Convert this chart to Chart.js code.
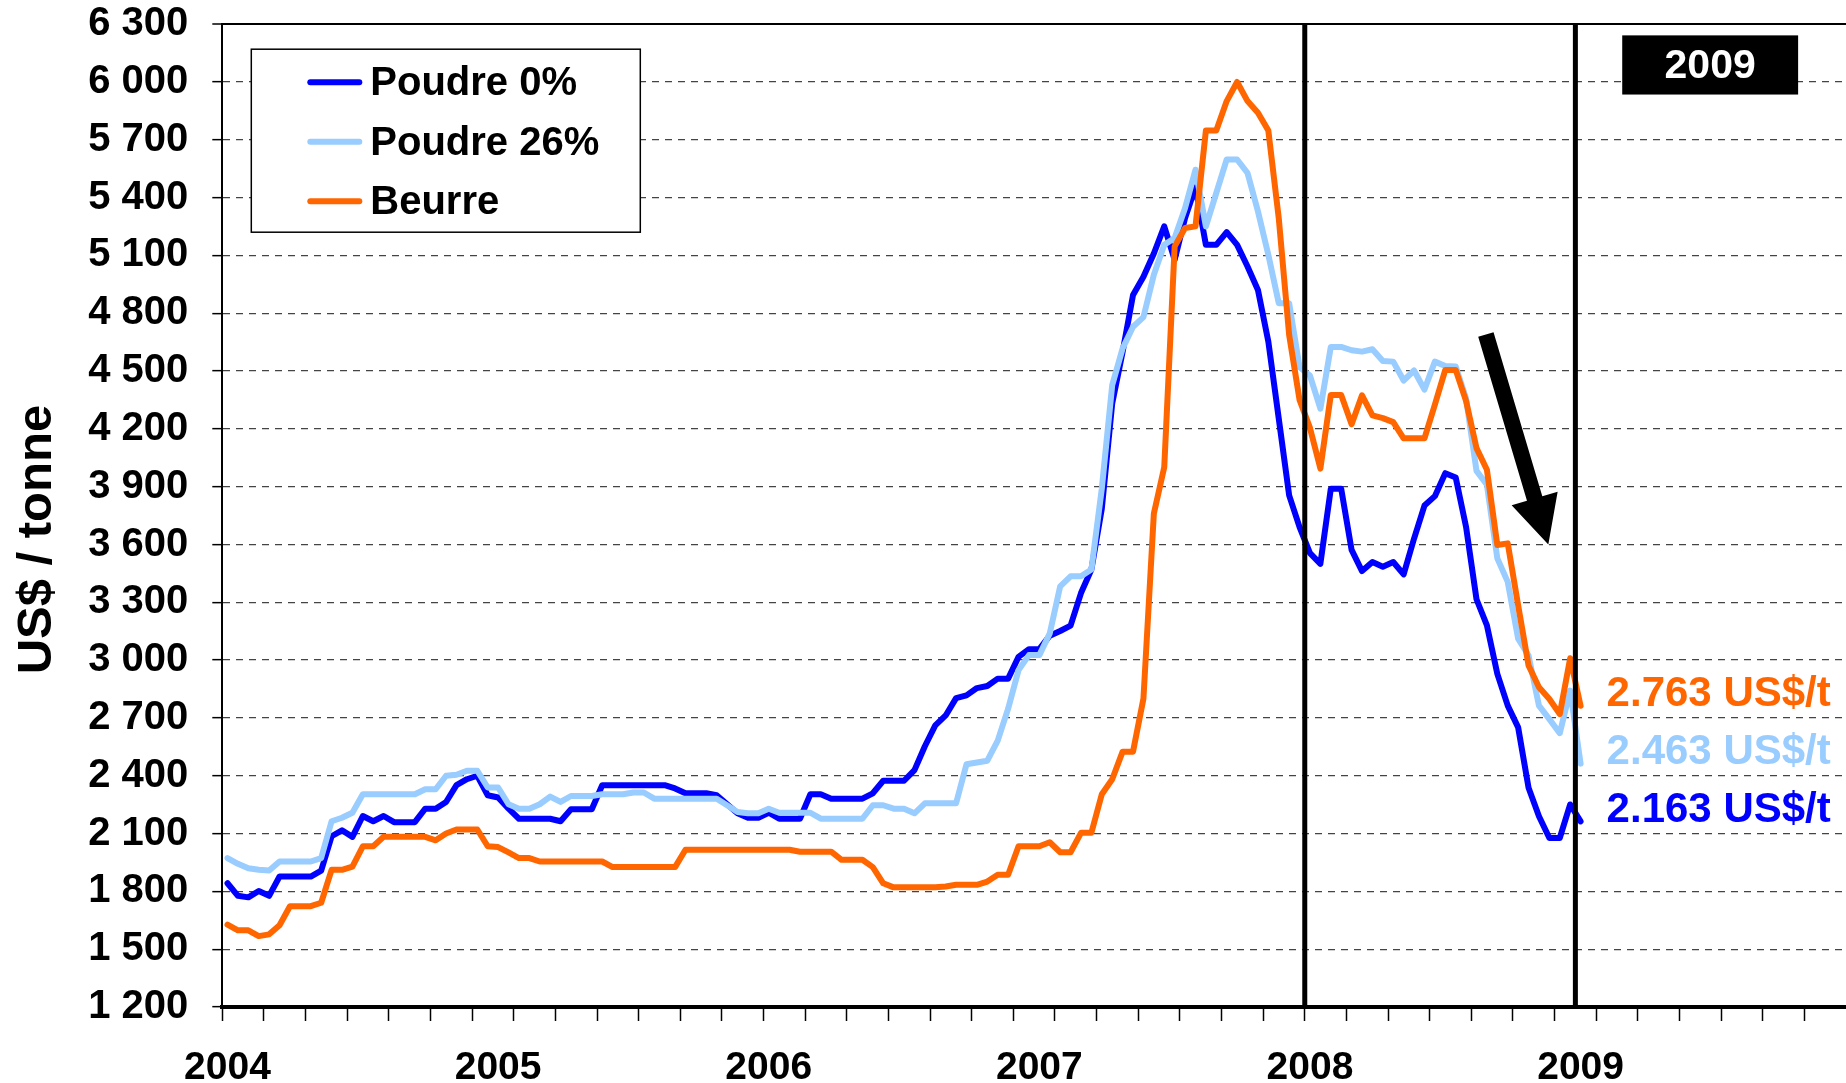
<!DOCTYPE html>
<html>
<head>
<meta charset="utf-8">
<script src="https://cdn.jsdelivr.net/npm/chart.js@4/dist/chart.umd.min.js"></script>
<style>
  html, body { margin: 0; padding: 0; background: #fff; }
  #wrap { width: 1846px; height: 1083px; position: relative; }
</style>
</head>
<body>
<div id="wrap"><canvas id="chart"></canvas></div>
<script>
// ----- DATA -----
// biweekly quotations, 26 per year, axis runs 2004 -> 2010
const years = ['2004', '2005', '2006', '2007', '2008', '2009'];
const periodsPerYear = 26;

const poudre0 = [
  1842, 1777, 1769, 1802, 1777, 1877, 1877, 1877, 1877, 1908,
  2086, 2117, 2083, 2191, 2164, 2191, 2159, 2159, 2159, 2229,
  2229, 2264, 2351, 2382, 2400, 2299, 2287, 2229, 2177, 2177,
  2177, 2177, 2164, 2226, 2226, 2226, 2351, 2351, 2351, 2351,
  2351, 2351, 2351, 2334, 2309, 2309, 2309, 2299, 2252, 2205,
  2182, 2182, 2208, 2177, 2177, 2177, 2304, 2304, 2281, 2281,
  2281, 2281, 2309, 2374, 2374, 2374, 2429, 2553, 2661, 2713,
  2803, 2817, 2855, 2866, 2904, 2904, 3017, 3057, 3057, 3127,
  3151, 3179, 3348, 3470, 3786, 4332, 4600, 4895, 4990, 5110,
  5251, 5077, 5294, 5454, 5155, 5155, 5221, 5155, 5043, 4921,
  4653, 4254, 3855, 3690, 3555, 3500, 3889, 3889, 3572, 3462,
  3509, 3485, 3509, 3445, 3631, 3802, 3851, 3970, 3948, 3690,
  3316, 3180, 2929, 2764, 2651, 2338, 2190, 2077, 2077, 2251,
  2163
];

const poudre26 = [
  1973, 1943, 1920, 1912, 1908, 1955, 1955, 1955, 1955, 1973,
  2164, 2182, 2208, 2304, 2304, 2304, 2304, 2304, 2304, 2330,
  2330, 2400, 2405, 2426, 2426, 2339, 2339, 2252, 2229, 2229,
  2252, 2292, 2264, 2295, 2295, 2295, 2304, 2304, 2304, 2313,
  2313, 2281, 2281, 2281, 2281, 2281, 2281, 2281, 2247, 2212,
  2205, 2205, 2229, 2208, 2208, 2208, 2208, 2177, 2177, 2177,
  2177, 2177, 2247, 2247, 2229, 2229, 2205, 2257, 2257, 2257,
  2257, 2460, 2469, 2478, 2582, 2748, 2948, 3026, 3026, 3139,
  3383, 3435, 3435, 3470, 3890, 4427, 4618, 4730, 4780, 5000,
  5155, 5190, 5346, 5545, 5251, 5424, 5598, 5598, 5528, 5329,
  5103, 4852, 4852, 4520, 4476, 4305, 4625, 4625, 4608, 4601,
  4613, 4552, 4549, 4451, 4503, 4404, 4549, 4526, 4524, 4357,
  3982, 3910, 3528, 3406, 3111, 3024, 2764, 2694, 2621, 2842,
  2463
];

const beurre = [
  1627, 1598, 1598, 1568, 1577, 1624, 1723, 1723, 1723, 1741,
  1912, 1912, 1929, 2034, 2034, 2083, 2083, 2083, 2083, 2083,
  2065, 2100, 2121, 2121, 2121, 2034, 2030, 2002, 1973, 1973,
  1955, 1955, 1955, 1955, 1955, 1955, 1955, 1926, 1926, 1926,
  1926, 1926, 1926, 1926, 2016, 2016, 2016, 2016, 2016, 2016,
  2016, 2016, 2016, 2016, 2016, 2006, 2006, 2006, 2006, 1964,
  1964, 1964, 1926, 1842, 1821, 1822, 1822, 1822, 1822, 1825,
  1834, 1834, 1834, 1851, 1886, 1886, 2034, 2034, 2034, 2055,
  2003, 2003, 2104, 2104, 2304, 2382, 2525, 2525, 2800, 3760,
  4002, 5147, 5242, 5251, 5748, 5748, 5901, 6000, 5901, 5840,
  5748, 5294, 4687, 4350, 4205, 3994, 4376, 4376, 4224, 4374,
  4270, 4256, 4235, 4151, 4151, 4151, 4326, 4506, 4506, 4344,
  4100, 3988, 3597, 3606, 3285, 2972, 2859, 2798, 2720, 3010,
  2763
];

const seriesNames = ['Poudre 0%', 'Poudre 26%', 'Beurre'];
const seriesColors = ['#0000FF', '#99CCFF', '#FF6600'];
const endLabels = ['2.163 US$/t', '2.463 US$/t', '2.763 US$/t'];
const endLabelValues = [2220, 2520, 2820];

const yMin = 1200, yMax = 6300, yStep = 300;
const yTitle = 'US$ / tonne';
const markerYears = ['2008', '2009'];
const boxLabel = '2009';
// arrow in data units: [period index, US$/t]
const arrowFrom = [120.9, 4690];
const arrowTo = [126.9, 3600];

const FONT = '"Liberation Sans", Arial, sans-serif';

// ----- CATEGORIES -----
const categories = [];
for (let i = 0; i < years.length * periodsPerYear; i++) {
  categories.push(i % periodsPerYear === 0 ? years[i / periodsPerYear] : '');
}

function fmtThousands(v) {
  return String(v).replace(/\B(?=(\d{3})+(?!\d))/g, ' ');
}

// ----- DRAWING EXTRAS -----
const extras = {
  id: 'extras',
  afterDatasetsDraw(chart) {
    const { ctx, chartArea: a, scales: { x, y } } = chart;
    const step = x.getPixelForValue(1) - x.getPixelForValue(0);
    const boundary = k => x.getPixelForValue(k) - step / 2;
    const xAt = v => x.getPixelForValue(0) + v * step;

    ctx.save();
    // year separators
    ctx.strokeStyle = '#000';
    ctx.lineWidth = 5;
    markerYears.forEach(yr => {
      const px = boundary(categories.indexOf(yr));
      ctx.beginPath();
      ctx.moveTo(px, a.top);
      ctx.lineTo(px, a.bottom);
      ctx.stroke();
    });

    // arrow
    const x1 = xAt(arrowFrom[0]), y1 = y.getPixelForValue(arrowFrom[1]);
    const x2 = xAt(arrowTo[0]), y2 = y.getPixelForValue(arrowTo[1]);
    const ang = Math.atan2(y2 - y1, x2 - x1);
    const headLen = 48, headHalf = 24, shaftHalf = 8;
    const bx = x2 - headLen * Math.cos(ang), by = y2 - headLen * Math.sin(ang);
    const nx = -Math.sin(ang), ny = Math.cos(ang);
    ctx.fillStyle = '#000';
    ctx.beginPath();
    ctx.moveTo(x1 + nx * shaftHalf, y1 + ny * shaftHalf);
    ctx.lineTo(bx + nx * shaftHalf, by + ny * shaftHalf);
    ctx.lineTo(bx + nx * headHalf, by + ny * headHalf);
    ctx.lineTo(x2, y2);
    ctx.lineTo(bx - nx * headHalf, by - ny * headHalf);
    ctx.lineTo(bx - nx * shaftHalf, by - ny * shaftHalf);
    ctx.lineTo(x1 - nx * shaftHalf, y1 - ny * shaftHalf);
    ctx.closePath();
    ctx.fill();

    // end-of-series value labels
    ctx.font = 'bold 42px ' + FONT;
    ctx.textAlign = 'left';
    ctx.textBaseline = 'middle';
    const lx = boundary(years.length * periodsPerYear - 23);
    endLabels.forEach((t, i) => {
      ctx.fillStyle = seriesColors[i];
      ctx.fillText(t, lx, y.getPixelForValue(endLabelValues[i]));
    });

    // black year box
    const bLeft = boundary(134.5), bRight = boundary(151.4);
    const bTop = y.getPixelForValue(6242), bBot = y.getPixelForValue(5935);
    ctx.fillStyle = '#000';
    ctx.fillRect(bLeft, bTop, bRight - bLeft, bBot - bTop);
    ctx.fillStyle = '#fff';
    ctx.font = 'bold 41px ' + FONT;
    ctx.textAlign = 'center';
    ctx.fillText(boxLabel, (bLeft + bRight) / 2, (bTop + bBot) / 2 + 2);

    // legend box
    const lgL = a.left + 29, lgT = a.top + 25, lgW = 389, lgH = 183;
    ctx.fillStyle = '#fff';
    ctx.fillRect(lgL, lgT, lgW, lgH);
    ctx.strokeStyle = '#000';
    ctx.lineWidth = 1.5;
    ctx.strokeRect(lgL, lgT, lgW, lgH);
    ctx.font = 'bold 40px ' + FONT;
    ctx.textAlign = 'left';
    seriesNames.forEach((n, i) => {
      const ly = lgT + 33 + i * 59.5;
      ctx.strokeStyle = seriesColors[i];
      ctx.lineWidth = 6;
      ctx.lineCap = 'round';
      ctx.beginPath();
      ctx.moveTo(lgL + 59, ly);
      ctx.lineTo(lgL + 108, ly);
      ctx.stroke();
      ctx.fillStyle = '#000';
      ctx.fillText(n, lgL + 119, ly + 2);
    });

    // y axis title
    ctx.translate(37, (a.top + a.bottom) / 2 + 24);
    ctx.rotate(-Math.PI / 2);
    ctx.fillStyle = '#000';
    ctx.font = 'bold 49px ' + FONT;
    ctx.textAlign = 'center';
    ctx.textBaseline = 'middle';
    ctx.fillText(yTitle, 0, 0);
    ctx.restore();
  }
};

// ----- CHART -----
const ctx = document.getElementById('chart').getContext('2d');
const seriesData = [poudre0, poudre26, beurre];

new Chart(ctx, {
  type: 'line',
  data: {
    labels: categories,
    datasets: seriesData.map((d, i) => ({
      label: seriesNames[i],
      data: d,
      borderColor: seriesColors[i],
      backgroundColor: seriesColors[i],
      borderWidth: 6,
      pointRadius: 0,
      tension: 0,
      borderJoinStyle: 'round',
      borderCapStyle: 'round',
      order: 3 - i
    }))
  },
  options: {
    responsive: true,
    maintainAspectRatio: false,
    animation: false,
    layout: { padding: { top: 23.5, left: 0, right: 0, bottom: 0 } },
    plugins: {
      legend: { display: false },
      tooltip: { enabled: false }
    },
    scales: {
      x: {
        type: 'category',
        offset: true,
        grid: {
          offset: true,
          drawOnChartArea: false,
          tickLength: 14,
          tickWidth: 1.5,
          tickColor: c => (c.index !== undefined && c.index % 4 === 0) ? '#000' : 'rgba(0,0,0,0)',
          color: 'rgba(0,0,0,0)'
        },
        border: { display: true, color: '#000', width: 4 },
        ticks: {
          autoSkip: false,
          maxRotation: 0,
          padding: 0,
          color: '#000',
          font: { family: FONT, size: 39, weight: 'bold', lineHeight: 2.41 },
          callback: function (v) { return this.getLabelForValue(v); }
        },
        afterFit: s => { s.height = 76; }
      },
      y: {
        min: yMin,
        max: yMax,
        grid: {
          color: c => (c.tick && c.tick.value === yMax) ? '#000' : '#444',
          lineWidth: c => (c.tick && c.tick.value === yMax) ? 2 : 1.3,
          tickLength: 10,
          tickColor: '#000',
          tickWidth: 1.5
        },
        border: {
          display: true,
          color: '#000',
          width: 2,
          dash: c => (c.type === 'tick' && c.tick.value !== yMax && c.tick.value !== yMin) ? [7, 6] : []
        },
        ticks: {
          stepSize: yStep,
          padding: 24,
          color: '#000',
          // tiny line height keeps the label box from adding space above the plot
          font: { family: FONT, size: 40, weight: 'bold', lineHeight: 0.01 },
          callback: v => fmtThousands(v)
        },
        afterFit: s => { s.width = 222.3; }
      }
    }
  },
  plugins: [extras]
});
</script>
</body>
</html>
